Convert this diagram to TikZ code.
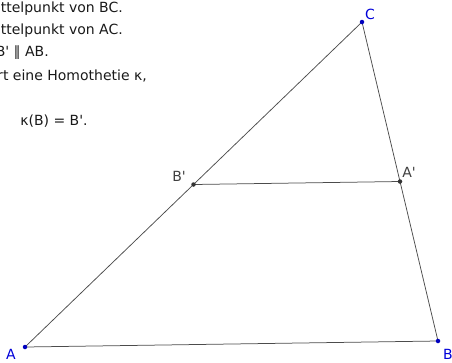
\documentclass[tikz,border=0pt]{standalone}
\usepackage{fontspec}
\setmainfont{DejaVu Sans}
\begin{document}
\begin{tikzpicture}[x=1pt,y=-1pt,
  seg/.style={draw=black!70, line width=0.75pt},
  bluept/.style={circle, fill=blue!75!black, inner sep=0pt, minimum size=4.5pt},
  greypt/.style={circle, fill=black!80, inner sep=0pt, minimum size=4.5pt},
  bluelbl/.style={text=blue!85!black, font=\fontsize{14}{16}\selectfont, inner sep=0pt},
  greylbl/.style={text=black!75, font=\fontsize{14}{16}\selectfont, inner sep=0pt},
  info/.style={text=black!90, font=\fontsize{14}{16}\selectfont, inner sep=0pt, anchor=east}]
\useasboundingbox (0,0) rectangle (452,362);
\clip (0,0) rectangle (452,362);
\node[info] (t1) at (123,9) {ttelpunkt von BC.};
\node[info] (t2) at (123,31) {ttelpunkt von AC.};
\node[info] (t3) at (49,53) {B\textquotesingle{} ∥ AB.};
\node[info] (t4) at (147,76) {rt eine Homothetie κ,};
\node[info,anchor=center] (t5) at (54,121) {κ(B) = B\textquotesingle.};
\coordinate (A) at (25,347);
\coordinate (B) at (438,341);
\coordinate (C) at (362,22);
\coordinate (Ap) at (400,181.5);
\coordinate (Bp) at (193.5,184.5);
\draw[seg] (A) -- (B) -- (C) -- cycle;
\draw[seg] (Bp) -- (Ap);
\node[bluept] (pA) at (A) {};
\node[bluept] (pB) at (B) {};
\node[bluept] (pC) at (C) {};
\node[greypt] (pAp) at (Ap) {};
\node[greypt] (pBp) at (Bp) {};
\node[bluelbl] (lA) at (11,354) {A};
\node[bluelbl] (lB) at (448,354) {B};
\node[bluelbl] (lC) at (370,14) {C};
\node[greylbl] (lBp) at (179,176) {B\textquotesingle};
\node[greylbl] (lAp) at (409,172) {A\textquotesingle};
\end{tikzpicture}
\end{document}
